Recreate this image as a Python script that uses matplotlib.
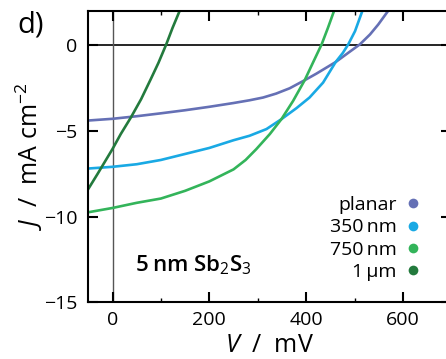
import matplotlib
matplotlib.use("Agg")
import matplotlib.pyplot as plt
from matplotlib.lines import Line2D
from matplotlib.ticker import MultipleLocator

plt.rcParams['font.family'] = ['Open Sans', 'DejaVu Sans']
plt.rcParams['mathtext.fontset'] = 'custom'
plt.rcParams['mathtext.rm'] = 'Open Sans'
plt.rcParams['mathtext.it'] = 'Open Sans:italic'

# J-V curves (V in mV, J in mA cm^-2)
v_planar = [-50, 0, 50, 100, 150, 200, 250, 283, 311, 338, 366, 397, 421, 461, 490, 511, 532, 549, 568]
j_planar = [-4.4, -4.3, -4.15, -3.98, -3.8, -3.6, -3.38, -3.22, -3.06, -2.83, -2.52, -2.05, -1.67,
            -0.99, -0.39, 0.04, 0.62, 1.2, 1.94]

v_350 = [-50, 0, 50, 100, 150, 200, 250, 283, 318, 349, 380, 407, 435, 461, 476, 487, 501, 516]
j_350 = [-7.2, -7.1, -6.95, -6.7, -6.35, -6.0, -5.55, -5.29, -4.9, -4.32, -3.68, -3.06, -2.19,
         -0.99, -0.45, 0.04, 0.81, 1.98]

v_750 = [-50, 0, 50, 100, 150, 200, 250, 275, 297, 325, 349, 373, 397, 414, 432, 445, 457]
j_750 = [-9.75, -9.5, -9.2, -8.95, -8.5, -7.95, -7.25, -6.7, -6.07, -5.19, -4.32, -3.26, -2.05,
         -1.03, 0.04, 1.0, 1.94]

v_1um = [-50, -31, 0, 17, 38, 59, 79, 95, 111, 124, 137]
j_1um = [-8.39, -7.52, -6.06, -5.19, -4.22, -3.16, -1.99, -1.03, 0.04, 1.0, 1.88]

labels = ['planar', '350\u2009nm', '750\u2009nm', '1\u2009\u00b5m']
colors = ['#6570b5', '#19a9e4', '#33b45a', '#237a3d']
series = [(v_planar, j_planar), (v_350, j_350), (v_750, j_750), (v_1um, j_1um)]

fig = plt.figure(figsize=(4.46, 3.59), dpi=100)
ax = fig.add_axes([0.198, 0.158, 0.814, 0.812])

ax.axhline(0, color='black', lw=1.2, zorder=1)
ax.axvline(0, color='#555555', lw=1.0, zorder=1)

for (v, j), c in zip(series, colors):
    ax.plot(v, j, color=c, lw=1.9, zorder=2, solid_joinstyle='round')

ax.set_xlim(-50, 700)
ax.set_ylim(-15, 2)
ax.xaxis.set_major_locator(MultipleLocator(200))
ax.xaxis.set_minor_locator(MultipleLocator(100))
ax.yaxis.set_major_locator(MultipleLocator(5))

for s in ax.spines.values():
    s.set_linewidth(1.5)
ax.tick_params(which='major', direction='in', length=7, width=1.5,
               top=True, right=True, labelsize=14)
ax.tick_params(axis='x', which='major', pad=6)
ax.tick_params(axis='y', which='major', pad=8)
ax.tick_params(which='minor', direction='in', length=3, width=1.0,
               top=True, right=False, left=False)

ax.set_xlabel('$V$  /  mV', fontsize=18, labelpad=3)
ax.set_ylabel('$J$  /  mA cm$^{-2}$', fontsize=18)
ax.yaxis.set_label_coords(-0.118, 0.5)

handles = [Line2D([], [], ls='none', marker='o', ms=7, color=c, mec='none') for c in colors]
leg = ax.legend(handles, labels, loc='lower right', bbox_to_anchor=(0.943, 0.04),
                frameon=False, markerfirst=False, fontsize=14, handlelength=0.8,
                handletextpad=0.45, labelspacing=0.22, borderpad=0)
for t in leg.get_texts():
    t.set_ha('right')

ax.text(0.128, 0.088, '5\u2009nm Sb$_2$S$_3$', transform=ax.transAxes,
        fontsize=16, fontweight='semibold', ha='left', va='bottom')

fig.text(0.04, 0.97, 'd)', fontsize=21, ha='left', va='top')

fig.savefig('out.png', dpi=100)
